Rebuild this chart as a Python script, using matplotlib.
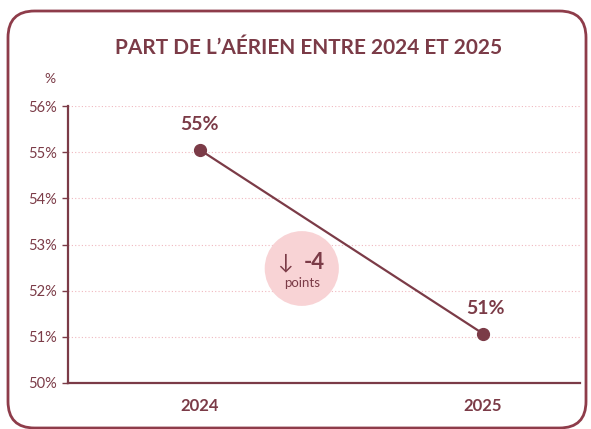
import matplotlib.pyplot as plt
from matplotlib.patches import FancyBboxPatch, Ellipse

# data
years = [2024, 2025]
share = [55.05, 51.07]
point_labels = ['55%', '51%']
y_ticks = [50, 51, 52, 53, 54, 55, 56]
y_tick_labels = ['50%', '51%', '52%', '53%', '54%', '55%', '56%']

MAROON = '#7b3b47'
PINK = '#f8d3d5'

plt.rcParams['font.family'] = ['Lato', 'DejaVu Sans']

fig = plt.figure(figsize=(5.91, 4.29), dpi=100)
fig.patch.set_facecolor('white')

# rounded frame
frame = FancyBboxPatch((8 / 591, 1 / 429), 578 / 591, 417 / 429,
                       boxstyle='round,pad=0,rounding_size=0.045',
                       transform=fig.transFigure, facecolor='none',
                       edgecolor='#8e3c4a', linewidth=2, mutation_aspect=591 / 429)
fig.patches.append(frame)

ax = fig.add_axes([68 / 591, 1 - 383 / 429, (580 - 68) / 591, (383 - 106) / 429])
ax.set_xlim(2024 - 0.466, 2025 + 0.343)
ax.set_ylim(50, 56)

for v in y_ticks[1:]:
    ax.axhline(v, color='#f0b8bf', linestyle=(0, (1, 2)), linewidth=0.8, zorder=0)

ax.plot(years, share, color=MAROON, linewidth=1.6, marker='o', markersize=8.5, zorder=3)

for x, y, lab in zip(years, share, point_labels):
    ax.annotate(lab, (x, y), xytext=(2 if x == 2025 else 0, 18), textcoords='offset points',
                ha='center', va='center', fontsize=14, fontweight='bold', color=MAROON)

# change badge
badge = Ellipse((2024.36, 52.48), 0.262, 1.62, facecolor=PINK, edgecolor='none', zorder=1)
ax.add_patch(badge)
ax.text(2024.30, 52.61, '\u2193', ha='center', va='center', fontsize=15,
        color=MAROON, zorder=2)
ax.text(2024.405, 52.62, '-4', ha='center', va='center', fontsize=16,
        fontweight='bold', color=MAROON, zorder=2)
ax.text(2024.36, 52.17, 'points', ha='center', va='center', fontsize=9.5,
        color=MAROON, zorder=2)

ax.set_xticks(years)
ax.set_xticklabels([str(y) for y in years], fontsize=12, fontweight='bold', color=MAROON)
ax.set_yticks(y_ticks)
ax.set_yticklabels(y_tick_labels, fontsize=10.5, color=MAROON)
ax.tick_params(axis='x', length=0, pad=11)
ax.tick_params(axis='y', length=4, width=1, color=MAROON, pad=4)

for s in ['top', 'right']:
    ax.spines[s].set_visible(False)
for s in ['left', 'bottom']:
    ax.spines[s].set_color(MAROON)
    ax.spines[s].set_linewidth(1.6)

fig.text(50 / 591, 1 - 79 / 429, '%', ha='center', va='center', fontsize=10, color=MAROON)
fig.text(309 / 591, 1 - 48 / 429, 'PART DE L\u2019A\u00c9RIEN ENTRE 2024 ET 2025',
         ha='center', va='center', fontsize=15, fontweight='bold', color=MAROON)

fig.savefig('out.png', dpi=100)
